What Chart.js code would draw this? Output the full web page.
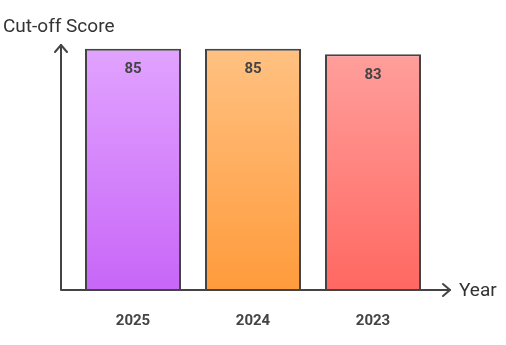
<!DOCTYPE html>
<html>
<head>
<meta charset="utf-8">
<script src="https://cdn.jsdelivr.net/npm/chart.js@4/dist/chart.umd.min.js"></script>
<style>
html,body{margin:0;padding:0;background:#fff;}
#wrap{position:relative;width:506px;height:345px;}
</style>
</head>
<body>
<div id="wrap"><canvas id="c" width="506" height="345"></canvas></div>
<script>
const categories = ["2025", "2024", "2023"];
const scores = [85, 85, 83];
const topColors = ["#E2A4FF", "#FFC283", "#FFA19E"];
const bottomColors = ["#C866F8", "#FF9B3C", "#FF6862"];
const yTitle = "Cut-off Score";
const xTitle = "Year";

function grad(ctx, chartArea, i) {
  const g = ctx.createLinearGradient(0, chartArea.top, 0, chartArea.bottom);
  g.addColorStop(0, topColors[i]);
  g.addColorStop(1, bottomColors[i]);
  return g;
}

const axesPlugin = {
  id: 'axesArrows',
  afterDraw(chart) {
    const {ctx, chartArea} = chart;
    const x0 = chartArea.left - 12;
    const y0 = chartArea.bottom;
    const yTop = 45;
    const xEnd = 450;
    ctx.save();
    ctx.strokeStyle = '#444';
    ctx.lineWidth = 2;
    ctx.lineCap = 'round';
    ctx.lineJoin = 'round';
    ctx.beginPath();
    ctx.moveTo(x0, yTop);
    ctx.lineTo(x0, y0);
    ctx.lineTo(xEnd, y0);
    ctx.stroke();
    ctx.beginPath();
    ctx.moveTo(x0 - 6, yTop + 7);
    ctx.lineTo(x0, yTop);
    ctx.lineTo(x0 + 6, yTop + 7);
    ctx.stroke();
    ctx.beginPath();
    ctx.moveTo(xEnd - 7, y0 - 6);
    ctx.lineTo(xEnd, y0);
    ctx.lineTo(xEnd - 7, y0 + 6);
    ctx.stroke();
    ctx.fillStyle = '#333';
    ctx.font = '19px Roboto, "Liberation Sans", sans-serif';
    ctx.textBaseline = 'middle';
    ctx.textAlign = 'left';
    ctx.fillText(yTitle, 3, 27);
    ctx.fillText(xTitle, 459, 291);
    // value labels
    const meta = chart.getDatasetMeta(0);
    ctx.fillStyle = '#444';
    ctx.font = 'bold 15px Roboto, "Liberation Sans", sans-serif';
    ctx.textAlign = 'center';
    meta.data.forEach((bar, i) => {
      ctx.fillText(String(scores[i]), bar.x, bar.y + 21);
    });
    ctx.restore();
  }
};

new Chart(document.getElementById('c'), {
  type: 'bar',
  data: {
    labels: categories,
    datasets: [{
      data: scores,
      backgroundColor: (c) => {
        const ca = c.chart.chartArea;
        if (!ca) return topColors[c.dataIndex];
        return grad(c.chart.ctx, ca, c.dataIndex);
      },
      borderColor: '#444',
      borderWidth: 2,
      borderSkipped: 'bottom',
      barPercentage: 0.8,
      categoryPercentage: 1.0
    }]
  },
  options: {
    responsive: false,
    animation: false,
    layout: { padding: { left: 73, right: 73, top: 43, bottom: 10 } },
    plugins: { legend: { display: false }, tooltip: { enabled: false } },
    scales: {
      x: {
        grid: { display: false, drawTicks: false },
        border: { display: false },
        afterFit: (scale) => { scale.height = 45; },
        ticks: {
          color: '#444',
          font: { family: 'Roboto, "Liberation Sans", sans-serif', size: 15, weight: 'bold' },
          padding: 22
        }
      },
      y: {
        display: false,
        min: 0,
        max: 87
      }
    }
  },
  plugins: [axesPlugin]
});
</script>
</body>
</html>
